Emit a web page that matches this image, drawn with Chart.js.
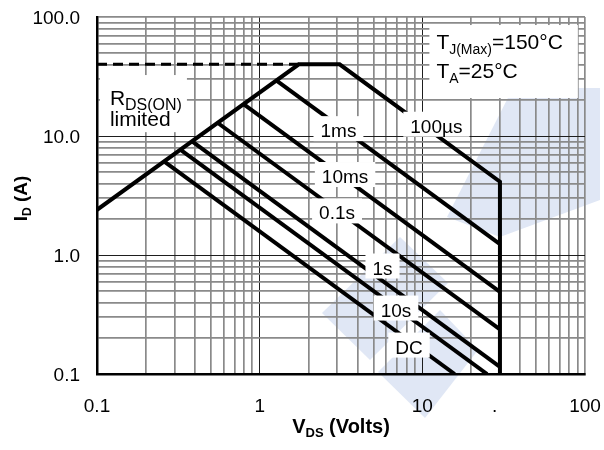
<!DOCTYPE html>
<html>
<head>
<meta charset="utf-8">
<script src="https://cdn.jsdelivr.net/npm/chart.js@4.4.1/dist/chart.umd.min.js"></script>
<style>
  html, body { margin: 0; padding: 0; background: #fff; }
  #wrap { width: 604px; height: 450px; }
</style>
</head>
<body>
<div id="wrap"><canvas id="soa" width="604" height="450"></canvas></div>
<script>
// Safe operating area: drain current vs drain-source voltage, log-log.

// Outer envelope: RDS(ON) slope, current limit plateau, 100µs power line, 30 V limit
const envelopeV = [0.1, 1.74, 3.1, 30, 30];
const envelopeI = [2.4, 40, 40, 4.13, 0.1];

// Dashed RDS(ON) current-limit extension
const limitV = [0.1, 1.74];
const limitI = [40, 40];

// Pulse-width lines, each from the RDS(ON) slope to the 30 V edge or the axis floor
const pulseNames  = ['1ms', '10ms', '0.1s', '1s', '10s', 'DC'];
const pulseStartV = [1.27, 0.80, 0.556, 0.388, 0.33, 0.262];
const pulseStartI = [29.2, 18.4, 12.8, 8.92, 7.58, 6.03];
const pulseEndV   = [30, 30, 30, 30, 25, 15.8];
const pulseEndI   = [1.236, 0.49, 0.237, 0.115, 0.1, 0.1];

// Grid and tick labels
const gridMantissas = [1, 2, 3, 4, 5, 6, 7, 8, 9];
const xDecades = [0.1, 1, 10];
const yDecades = [0.1, 1, 10];
const xTickValues = [0.1, 1, 10, 30, 100];
const xTickLabels = ['0.1', '1', '10', '.  ', '100'];
const yTickValues = [0.1, 1, 10, 100];
const yTickLabels = ['0.1', '1.0', '10.0', '100.0'];

// Curve captions and the (V, A) point each caption is centred on
const captionText = ['100µs', '1ms', '10ms', '0.1s', '1s', '10s', 'DC'];
const captionV = [12.2, 3.05, 3.35, 2.99, 5.69, 6.89, 8.28];
const captionI = [12.2, 11.2, 4.61, 2.28, 0.785, 0.348, 0.170];

const FONT = "'Liberation Sans', Arial, Helvetica, sans-serif";

function gridValues(decades, top) {
  const out = [];
  decades.forEach(d => gridMantissas.forEach(m => out.push(m * d)));
  out.push(top);
  return out;
}
const sameValue = (a, b) => Math.abs(Math.log10(a) - Math.log10(b)) < 1e-6;
const labelFor = (vals, labels) => v => {
  const i = vals.findIndex(t => sameValue(t, v));
  return i >= 0 ? labels[i] : '';
};
const innerDecade = v => v !== undefined && (sameValue(v, 1) || sameValue(v, 10));

const pts = (xs, ys) => xs.map((v, i) => ({ x: v, y: ys[i] }));

const lineStyle = {
  showLine: true, pointRadius: 0, pointHoverRadius: 0,
  borderColor: '#000', borderWidth: 4, tension: 0,
  borderJoinStyle: 'miter', borderCapStyle: 'butt', fill: false
};

const datasets = [
  Object.assign({}, lineStyle, { data: pts(limitV, limitI), borderWidth: 3, borderDash: [10, 6] }),
  Object.assign({}, lineStyle, { data: pts(envelopeV, envelopeI) })
];
pulseNames.forEach((name, i) => {
  datasets.push(Object.assign({}, lineStyle, {
    label: name,
    data: pts([pulseStartV[i], pulseEndV[i]], [pulseStartI[i], pulseEndI[i]])
  }));
});

// Draws a run of text pieces (main text and subscripts) starting at x on baseline y
function drawRuns(ctx, runs, x, y, align) {
  let total = 0;
  runs.forEach(r => {
    ctx.font = (r.bold ? 'bold ' : '') + r.size + 'px ' + FONT;
    r.w = ctx.measureText(r.text).width;
    total += r.w;
  });
  let cx = align === 'center' ? x - total / 2 : x;
  ctx.textAlign = 'left';
  ctx.textBaseline = 'alphabetic';
  runs.forEach(r => {
    ctx.font = (r.bold ? 'bold ' : '') + r.size + 'px ' + FONT;
    ctx.fillText(r.text, cx, y + (r.dy || 0));
    cx += r.w;
  });
  return total;
}
function runsWidth(ctx, runs) {
  let t = 0;
  runs.forEach(r => {
    ctx.font = (r.bold ? 'bold ' : '') + r.size + 'px ' + FONT;
    t += ctx.measureText(r.text).width;
  });
  return t;
}

// Pale logo behind the grid
const logoShapes = [
  [[513, 88], [600, 88], [600, 200], [500, 237], [447, 217]],
  [[322, 313], [400, 237], [448, 283], [370, 360]],
  [[378, 372], [440, 310], [478, 350], [425, 418]]
];

const sheetPlugin = {
  id: 'sheet',
  beforeDraw(chart) {
    const ctx = chart.ctx;
    ctx.save();
    ctx.fillStyle = '#fff';
    ctx.fillRect(0, 0, chart.width, chart.height);
    ctx.fillStyle = '#e0e7f5';
    logoShapes.forEach(poly => {
      ctx.beginPath();
      poly.forEach((p, i) => i ? ctx.lineTo(p[0], p[1]) : ctx.moveTo(p[0], p[1]));
      ctx.closePath();
      ctx.fill();
    });
    ctx.restore();
  },
  afterDatasetsDraw(chart) {
    const { ctx, scales: { x, y } } = chart;
    ctx.save();

    // Curve captions on white boxes that break the lines
    captionText.forEach((t, i) => {
      const cx = x.getPixelForValue(captionV[i]);
      const cy = y.getPixelForValue(captionI[i]);
      ctx.font = '19px ' + FONT;
      const w = ctx.measureText(t).width;
      ctx.fillStyle = '#fff';
      ctx.fillRect(cx - w / 2 - 7, cy - 14, w + 14, 25);
      ctx.fillStyle = '#000';
      ctx.textAlign = 'center';
      ctx.textBaseline = 'alphabetic';
      ctx.fillText(t, cx, cy + 7);
    });

    // RDS(ON) limited
    {
      const lx = x.getPixelForValue(0.12);
      const b1 = y.getPixelForValue(18.2);
      const b2 = y.getPixelForValue(12.1);
      const line1 = [{ text: 'R', size: 21 }, { text: 'DS(ON)', size: 16, dy: 5 }];
      const line2 = [{ text: 'limited', size: 21 }];
      const w = Math.max(runsWidth(ctx, line1), runsWidth(ctx, line2));
      ctx.fillStyle = '#fff';
      ctx.fillRect(lx - 10, b1 - 30, w + 15, b2 - b1 + 36);
      ctx.fillStyle = '#000';
      drawRuns(ctx, line1, lx, b1);
      drawRuns(ctx, line2, lx, b2);
    }

    // Junction and ambient temperature
    {
      const lx = x.getPixelForValue(12.2);
      const b1 = y.getPixelForValue(53.8);
      const b2 = y.getPixelForValue(30.7);
      const line1 = [{ text: 'T', size: 21 }, { text: 'J(Max)', size: 14, dy: 5 }, { text: '=150°C', size: 21 }];
      const line2 = [{ text: 'T', size: 21 }, { text: 'A', size: 14, dy: 5 }, { text: '=25°C', size: 21 }];
      const w = Math.max(runsWidth(ctx, line1), runsWidth(ctx, line2));
      ctx.fillStyle = '#fff';
      ctx.fillRect(lx - 7, b1 - 24, w + 22, b2 - b1 + 44);
      ctx.fillStyle = '#000';
      drawRuns(ctx, line1, lx, b1);
      drawRuns(ctx, line2, lx, b2);
    }
    ctx.restore();
  },
  afterDraw(chart) {
    const { ctx, chartArea: a } = chart;
    ctx.save();
    ctx.fillStyle = '#000';
    // Horizontal axis title
    drawRuns(ctx, [
      { text: 'V', size: 20, bold: true },
      { text: 'DS', size: 13, bold: true, dy: 4 },
      { text: ' (Volts)', size: 20, bold: true }
    ], (a.left + a.right) / 2, a.bottom + 59, 'center');
    // Vertical axis title
    ctx.translate(27, (a.top + a.bottom) / 2 + 3);
    ctx.rotate(-Math.PI / 2);
    drawRuns(ctx, [
      { text: 'I', size: 19, bold: true },
      { text: 'D', size: 12, bold: true, dy: 4 },
      { text: ' (A)', size: 19, bold: true }
    ], 0, 0, 'center');
    ctx.restore();
  }
};

const gridColor = c => innerDecade(c.tick && c.tick.value) ? '#1e1e1e' : '#8a8a8a';
const gridWidth = c => innerDecade(c.tick && c.tick.value) ? 1 : 1.7;
const noEdgePadding = s => { s.paddingLeft = 0; s.paddingRight = 0; s.paddingTop = 0; s.paddingBottom = 0; };

new Chart(document.getElementById('soa'), {
  type: 'scatter',
  data: { datasets },
  plugins: [sheetPlugin],
  options: {
    responsive: false,
    animation: false,
    devicePixelRatio: 1,
    layout: { padding: { left: 0, right: 19, top: 17, bottom: 0 } },
    plugins: { legend: { display: false }, tooltip: { enabled: false } },
    scales: {
      x: {
        type: 'logarithmic', position: 'bottom', min: 0.1, max: 100,
        afterBuildTicks: s => { s.ticks = gridValues(xDecades, 100).map(v => ({ value: v })); },
        afterFit: s => { s.height = 76; noEdgePadding(s); },
        ticks: {
          autoSkip: false, maxRotation: 0, minRotation: 0, padding: 21,
          color: '#000', font: { family: FONT, size: 19 },
          callback: labelFor(xTickValues, xTickLabels)
        },
        grid: { drawTicks: false, color: gridColor, lineWidth: gridWidth },
        border: { display: true, color: '#000', width: 2.5 },
        title: { display: false }
      },
      y: {
        type: 'logarithmic', position: 'left', min: 0.1, max: 100,
        afterBuildTicks: s => { s.ticks = gridValues(yDecades, 100).map(v => ({ value: v })); },
        afterFit: s => { s.width = 97; noEdgePadding(s); },
        ticks: {
          autoSkip: false, padding: 17, labelOffset: 2,
          color: '#000', font: { family: FONT, size: 19 },
          callback: labelFor(yTickValues, yTickLabels)
        },
        grid: { drawTicks: false, color: gridColor, lineWidth: gridWidth },
        border: { display: true, color: '#000', width: 2.5 },
        title: { display: false }
      }
    }
  }
});
</script>
</body>
</html>
